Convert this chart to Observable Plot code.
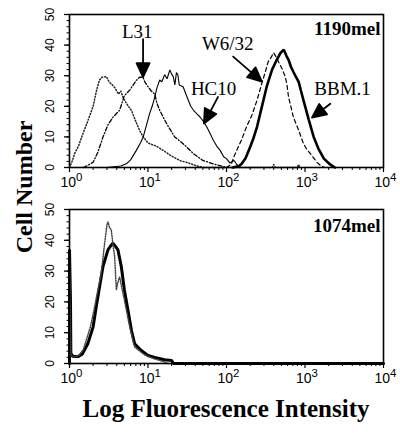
<!DOCTYPE html>
<html><head><meta charset="utf-8">
<script src="https://cdn.jsdelivr.net/npm/d3@7"></script>
<script src="https://cdn.jsdelivr.net/npm/@observablehq/plot@0.6"></script>
<style>
body{margin:0;background:#fff;}
#wrap{position:relative;width:400px;height:433px;overflow:hidden;font-family:"Liberation Serif","Times New Roman",serif;color:#000;}
#top{position:absolute;left:0;top:0;}
#bot{position:absolute;left:0;top:200px;}
.ytitle{position:absolute;left:24px;top:187px;transform:translate(-50%,-50%) rotate(-90deg);font-weight:bold;font-size:24px;line-height:1;white-space:nowrap;}
.xtitle{position:absolute;left:226px;top:396px;transform:translateX(-50%);font-weight:bold;font-size:25px;line-height:1;white-space:nowrap;}
</style></head>
<body>
<div id="wrap">
  <div id="top"></div>
  <div id="bot"></div>
  <div class="ytitle">Cell Number</div>
  <div class="xtitle">Log Fluorescence Intensity</div>
</div>
<script>
// ---- axis ticks ----
const xTicks = [1, 10, 100, 1000, 10000];
const xMinorTicks = [2,3,4,5,6,7,8,9, 20,30,40,50,60,70,80,90, 200,300,400,500,600,700,800,900, 2000,3000,4000,5000,6000,7000,8000,9000];
const yTicks = [0, 10, 20, 30, 40, 50];
const yMinorTicks = [0,2,4,6,8,10,12,14,16,18,20,22,24,26,28,30,32,34,36,38,40,42,44,46,48,50];

// ---- panel names ----
const panelTop = "1190mel";
const panelBottom = "1074mel";

// ---- 1190mel histograms: [fluorescence, cell count] ----
const control1190 = [[1.0,0],[1.08,2],[1.16,4.5],[1.3,7],[1.48,11],[1.7,15],[2.0,20],[2.2,25],[2.4,28.5],[2.6,29.5],[2.95,29.7],[3.2,28],[3.5,27],[3.8,26],[4.2,24],[4.5,25],[4.8,23],[5.3,21],[6.2,18.5],[7.0,15],[7.85,12],[8.7,10],[10,8],[12.7,7],[15.6,5.6],[18,4.5],[21,3.4],[26,2.2],[31,1.7],[37,1],[42,0.5],[50,0],[380,0],[400,1],[420,0],[800,0],[830,1],[860,0]];
const l31_1190 = [[1.5,0],[1.8,1],[2.0,1.7],[2.3,5],[2.67,10],[3.1,14],[3.6,16.5],[4.35,18.7],[5.0,23.5],[5.85,25.3],[7.1,28.5],[7.85,29.5],[8.65,29.5],[9.1,28],[10,26.4],[11,25],[12.2,24],[13,21],[14.1,18.7],[17.2,14.4],[21.9,10],[28,7.8],[38,4.5],[50,2.3],[68,1.2],[85,0.5],[100,0]];
const hc10_1190 = [[3,0],[4.5,0.5],[5.3,1.2],[6,2.5],[7.1,5.6],[8.0,8],[8.7,10],[9.6,14],[10.5,17.7],[11.3,20],[12.2,23],[13,26],[14.1,28.6],[15,28],[16.3,30.3],[17.5,29],[19,31.9],[20,30.5],[21,29.7],[22,27],[23,31],[24,30.3],[25,27],[28,26.4],[32.6,22],[35,20],[38,18.7],[42,17.5],[46,16.5],[51,15],[56,13.3],[62,11],[68,8.9],[75,7],[83,5.6],[92,3.5],[100,2.9],[110,1.5],[125,2.3],[135,1],[150,0]];
const w632_1190 = [[100,0],[115,1],[123,3.3],[135,5.6],[155,9],[180,13.3],[210,17],[245,22],[282,27.5],[310,31],[340,34.6],[370,36],[398,37.5],[437,35.8],[470,34],[505,32.5],[560,29.7],[590,27],[617,23],[660,20],[710,16.5],[830,12.2],[955,7.8],[1050,6],[1170,4.5],[1420,1.7],[1600,0.5],[1800,0]];
const bbm1_1190 = [[120,0],[145,0.5],[156,1.2],[175,3],[200,6.7],[220,9.5],[245,13.3],[282,19.8],[325,26.4],[380,31.9],[437,35.2],[490,37.5],[537,38.5],[580,36.5],[617,35.2],[660,33],[710,31.3],[770,29.5],[830,28],[890,25],[955,22],[1120,15.5],[1290,10],[1480,6.2],[1740,2.9],[2090,1],[2400,0]];

// ---- 1074mel histograms ----
const thick1074 = [[1.0,0],[1.0,37],[1.03,20],[1.04,3.3],[1.1,2.3],[1.3,2.3],[1.45,3],[1.6,5],[1.71,6.4],[2.0,11.9],[2.19,18.4],[2.42,25],[2.67,31.5],[3.09,36.9],[3.3,38],[3.57,39.1],[3.85,38],[4.14,36.9],[4.57,31.5],[5.0,23.9],[5.56,17.3],[6.15,10.8],[6.76,6.4],[8.2,4.2],[10,2.6],[12.2,2],[16.3,1.2],[20,1],[21,0],[10000,0]];
const dotted1074 = [[1.0,0],[1.0,36],[1.04,3],[1.1,2],[1.3,2.5],[1.5,4.5],[1.63,7.5],[1.85,12],[2.09,18.4],[2.3,24],[2.54,29.3],[2.8,39],[3.0,45],[3.09,46],[3.25,44],[3.4,43.5],[3.6,38],[3.76,34.7],[3.95,23.9],[4.1,26],[4.35,28.2],[5.0,20.6],[5.85,11.9],[6.76,5.3],[9.1,2.8],[12,1.5],[15,0.8],[18,0]];

// ---- annotations (data coordinates) ----
const labels1190 = [
  {label: "L31", x: 7.3, y: 44.3, anchor: "middle"},
  {label: "HC10", x: 35.2, y: 25.7, anchor: "start"},
  {label: "W6/32", x: 48.6, y: 40.5, anchor: "start"},
  {label: "BBM.1", x: 1313, y: 25.7, anchor: "start"}
];
const arrows1190 = [
  {x: 8.65, y: 29.5, rotate: 180, length: 38},
  {x: 51.6, y: 14.4, rotate: 208, length: 30},
  {x: 282, y: 28.1, rotate: 131, length: 38},
  {x: 1227, y: 16.3, rotate: 233, length: 23}
];

const SERIF = '"Liberation Serif","Times New Roman",serif';
const SANS = '"Liberation Sans",Arial,Helvetica,sans-serif';

const headArrow = {
  draw(context, l) {
    const h = 14, w = 6.5;
    context.moveTo(0, 0);
    context.lineTo(0, -l + h);
    context.moveTo(-w, -l + h);
    context.lineTo(0, -l);
    context.lineTo(w, -l + h);
    context.closePath();
  }
};

function line(data, opts) {
  return Plot.line(data, {x: d => d[0], y: d => d[1], stroke: "black", fill: "none", strokeLinejoin: "miter", ...opts});
}

function panel({height, marginTop, marginBottom, lines, name, nameDy, labels = [], arrows = []}) {
  const svg = Plot.plot({
    width: 400, height, marginLeft: 69, marginRight: 17, marginTop, marginBottom,
    x: {type: "log", domain: [1, 10000], label: null},
    y: {domain: [0, 50], label: null},
    style: {background: "white", color: "black", overflow: "visible"},
    marks: [
      ...lines,
      Plot.frame({stroke: "black", strokeWidth: 1.6}),
      Plot.axisX({ticks: xMinorTicks, tickSize: 3, tickFormat: () => "", strokeWidth: 1}),
      Plot.axisX({ticks: xTicks, tickSize: 5, tickFormat: () => "", strokeWidth: 1.2}),
      Plot.axisX({ticks: xTicks, tickSize: 0, tickPadding: 10, dx: 2, fontSize: 14, fontFamily: SANS,
        tickFormat: d => "10^" + Math.round(Math.log10(d))}),
      Plot.axisY({ticks: yMinorTicks, tickSize: 2.5, tickFormat: () => "", strokeWidth: 1}),
      Plot.axisY({ticks: yTicks, tickSize: 5, tickFormat: () => "", strokeWidth: 1.3}),
      Plot.text(yTicks, {y: d => d, text: d => String(d), frameAnchor: "left", dx: -19, rotate: -90,
        textAnchor: "middle", lineAnchor: "middle", fontSize: 12, fontFamily: SANS}),
      Plot.text([name], {frameAnchor: "top-right", dx: -3, dy: nameDy, textAnchor: "end", lineAnchor: "top",
        fontSize: 19, fontWeight: "bold", fontFamily: SERIF}),
      ...labels.map(n => Plot.text([n], {x: "x", y: "y", text: "label", textAnchor: n.anchor, lineAnchor: "middle",
        fontSize: 19, fontFamily: SERIF})),
      ...arrows.map(a => Plot.vector([a], {x: "x", y: "y", rotate: a.rotate, length: a.length, anchor: "end",
        shape: headArrow, stroke: "black", fill: "black", strokeWidth: 1.8}))
    ]
  });
  const ns = "http://www.w3.org/2000/svg";
  svg.querySelectorAll('g[aria-label="x-axis tick label"] text').forEach(t => {
    const s = t.textContent;
    if (!s.includes("^")) return;
    const [b, e] = s.split("^");
    t.textContent = "";
    const a = document.createElementNS(ns, "tspan"); a.textContent = b; t.appendChild(a);
    const c = document.createElementNS(ns, "tspan"); c.textContent = e;
    c.setAttribute("dy", "-0.6em"); c.setAttribute("font-size", "0.82em"); t.appendChild(c);
  });
  return svg;
}

document.getElementById("top").appendChild(panel({
  height: 200, marginTop: 14, marginBottom: 33, name: panelTop, nameDy: 7,
  lines: [
    line(control1190, {strokeWidth: 1.5, strokeDasharray: "1,2", stroke: "#222"}),
    line(l31_1190, {strokeWidth: 1.3, strokeDasharray: "4,2,1,2"}),
    line(hc10_1190, {strokeWidth: 1.1}),
    line(w632_1190, {strokeWidth: 1.2, strokeDasharray: "4,3"}),
    line(bbm1_1190, {strokeWidth: 2.6})
  ],
  labels: labels1190, arrows: arrows1190
}));

document.getElementById("bot").appendChild(panel({
  height: 190, marginTop: 9, marginBottom: 27, name: panelBottom, nameDy: 9,
  lines: [
    line(thick1074, {strokeWidth: 3}),
    line(dotted1074, {strokeWidth: 1.5, strokeDasharray: "1,1.5", stroke: "#444"})
  ]
}));
</script>
</body></html>
